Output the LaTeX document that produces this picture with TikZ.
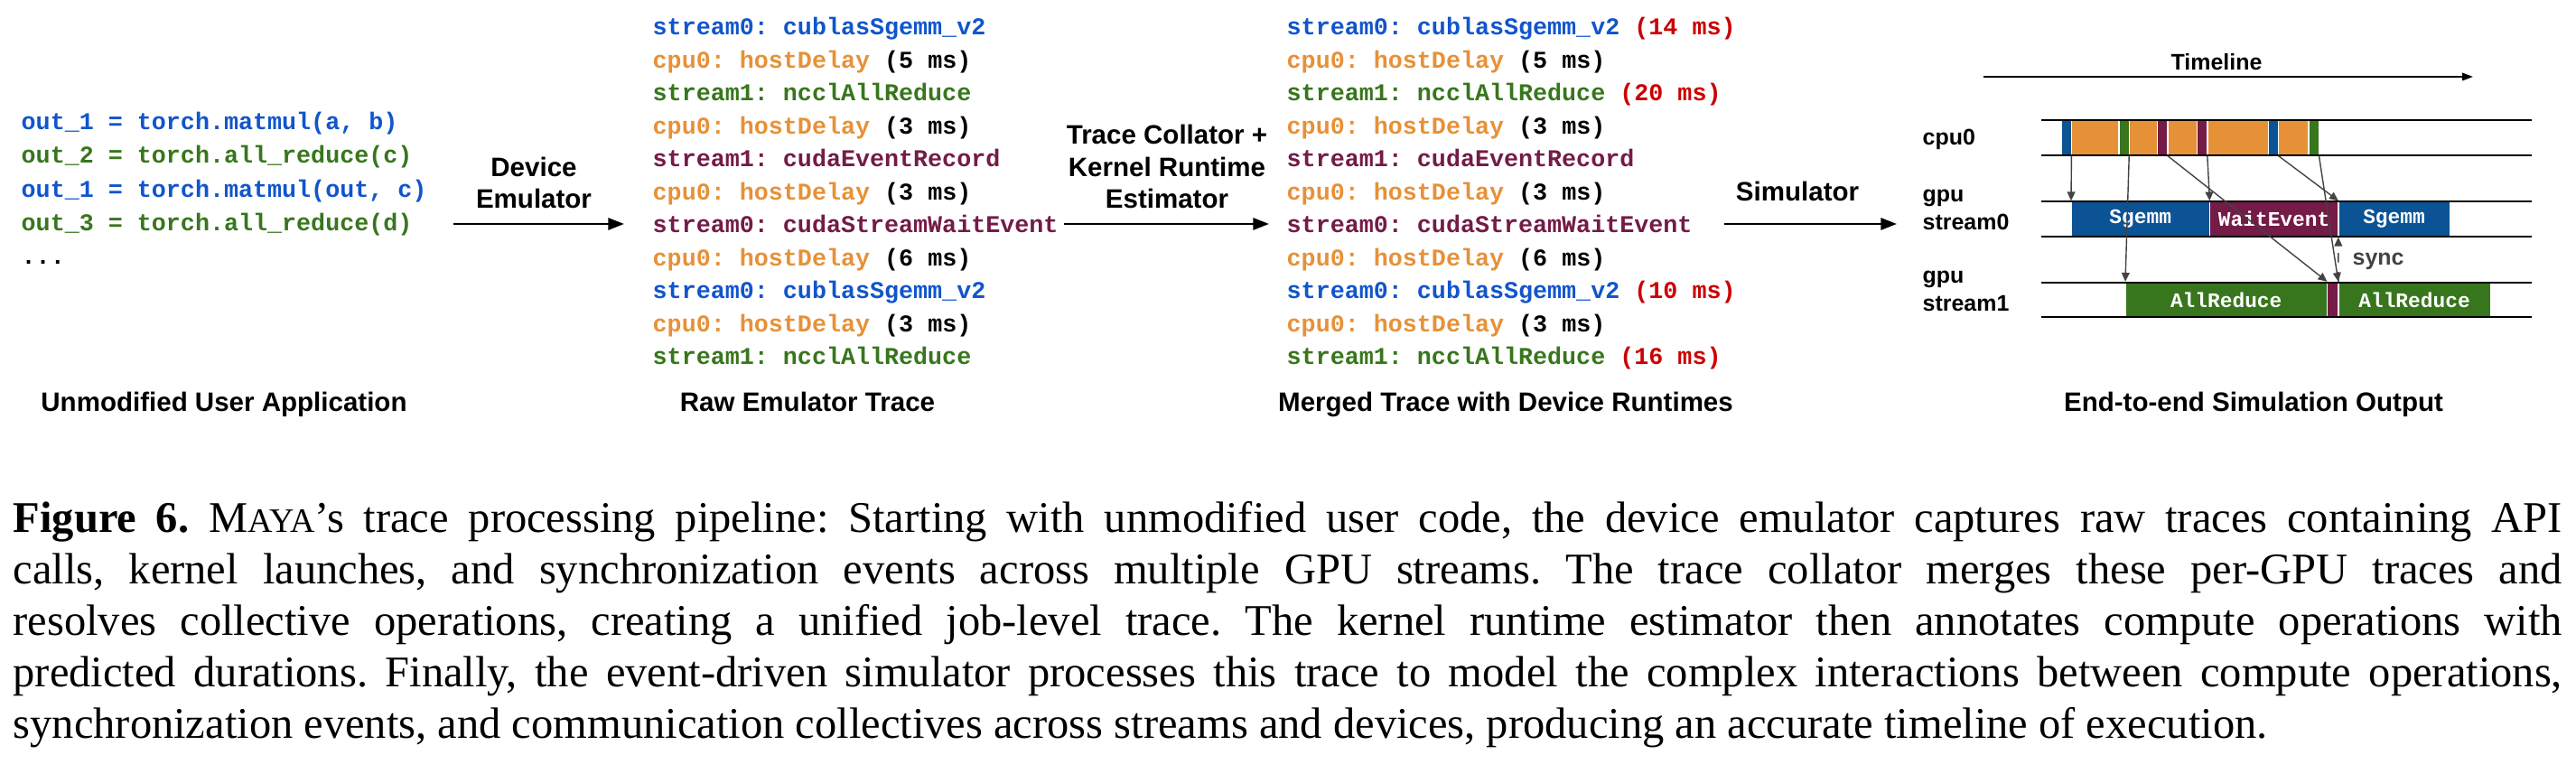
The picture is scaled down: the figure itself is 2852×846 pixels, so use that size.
\documentclass[tikz,border=0pt]{standalone}
\usepackage{fontspec}
\setmainfont{Liberation Serif}
\setsansfont{Liberation Sans}
\setmonofont{Liberation Mono}
\usetikzlibrary{positioning,matrix,arrows.meta}
\definecolor{codeblue}{HTML}{1155CC}
\definecolor{kblue}{HTML}{0B5394}
\definecolor{korange}{HTML}{E69138}
\definecolor{kgreen}{HTML}{38761D}
\definecolor{kpurple}{HTML}{741B47}
\definecolor{kred}{HTML}{CC0000}
\definecolor{kgray}{HTML}{434343}
\newcommand{\kbl}[1]{{\color{codeblue} #1}}
\newcommand{\kor}[1]{{\color{korange} #1}}
\newcommand{\kgr}[1]{{\color{kgreen} #1}}
\newcommand{\kpu}[1]{{\color{kpurple} #1}}
\newcommand{\krd}[1]{{\color{kred} #1}}
\newcommand{\codefont}{\ttfamily\bfseries\fontsize{7.6}{9}\selectfont}
\newcommand{\labfont}{\sffamily\bfseries\fontsize{8.4}{10.2}\selectfont}
\newcommand{\lanefont}{\sffamily\bfseries\fontsize{7.1}{8.8}\selectfont}
\newcommand{\boxfont}{\ttfamily\bfseries\fontsize{6.5}{8}\selectfont}
\newcommand{\captfont}{\rmfamily\fontsize{13.8}{16.15}\selectfont\frenchspacing\tolerance=10000\hbadness=10000}

\begin{document}
\begin{tikzpicture}[x=0.1mm, y=-0.1mm,
  codecol/.style={matrix of nodes, nodes=codeline, row sep=0pt, inner sep=0pt},
  codeline/.style={anchor=west, inner sep=0pt, text height=2.6mm, text depth=1.05mm, font=\codefont},
  lab/.style={inner sep=0pt, font=\labfont},
  lanelab/.style={inner sep=0pt, font=\lanefont},
  seg/.style={inner sep=0pt, minimum height=3.9mm, anchor=west},
  kbox/.style={inner sep=0pt, minimum height=3.9mm, anchor=west, text=white, font=\boxfont},
  lane/.style={line width=0.5pt},
  flow/.style={line width=0.75pt, -{Triangle[length=5pt,width=3.7pt]}},
  tflow/.style={line width=0.55pt, -{Triangle[length=3.4pt,width=2.4pt]}},
  dep/.style={draw=kgray, line width=0.4pt, -{Triangle[length=2.8pt,width=2.5pt]}}
  ]
  \useasboundingbox (0,0) rectangle (2852,846);

  % user application
  \matrix[codecol, anchor=north west, row sep=0.07mm] (app) at (23,117) {
    \kbl{out\_1 = torch.matmul(a, b)}\\
    \kgr{out\_2 = torch.all\_reduce(c)}\\
    \kbl{out\_1 = torch.matmul(out, c)}\\
    \kgr{out\_3 = torch.all\_reduce(d)}\\
    ...\\
  };

  % raw emulator trace
  \matrix[codecol, anchor=north west] (raw) at (722,12) {
    \kbl{stream0: cublasSgemm\_v2}\\
    \kor{cpu0: hostDelay} (5 ms)\\
    \kgr{stream1: ncclAllReduce}\\
    \kor{cpu0: hostDelay} (3 ms)\\
    \kpu{stream1: cudaEventRecord}\\
    \kor{cpu0: hostDelay} (3 ms)\\
    \kpu{stream0: cudaStreamWaitEvent}\\
    \kor{cpu0: hostDelay} (6 ms)\\
    \kbl{stream0: cublasSgemm\_v2}\\
    \kor{cpu0: hostDelay} (3 ms)\\
    \kgr{stream1: ncclAllReduce}\\
  };

  % merged trace
  \matrix[codecol, anchor=north west] (merged) at (1424,12) {
    \kbl{stream0: cublasSgemm\_v2} \krd{(14 ms)}\\
    \kor{cpu0: hostDelay} (5 ms)\\
    \kgr{stream1: ncclAllReduce} \krd{(20 ms)}\\
    \kor{cpu0: hostDelay} (3 ms)\\
    \kpu{stream1: cudaEventRecord}\\
    \kor{cpu0: hostDelay} (3 ms)\\
    \kpu{stream0: cudaStreamWaitEvent}\\
    \kor{cpu0: hostDelay} (6 ms)\\
    \kbl{stream0: cublasSgemm\_v2} \krd{(10 ms)}\\
    \kor{cpu0: hostDelay} (3 ms)\\
    \kgr{stream1: ncclAllReduce} \krd{(16 ms)}\\
  };

  % pipeline arrows
  \coordinate (emuS) at (502,248);
  \coordinate (emuE) at (691,248);
  \coordinate (colS) at (1178,248);
  \coordinate (colE) at (1405,248);
  \coordinate (simS) at (1909,248);
  \coordinate (simE) at (2100,248);
  \draw[flow] (emuS) -- (emuE);
  \draw[flow] (colS) -- (colE);
  \draw[flow] (simS) -- (simE);
  \node[lab, align=center, anchor=south] (emul) at (591,232) {Device\\Emulator};
  \node[lab, align=center, anchor=south] (coll) at (1292,232) {Trace Collator +\\Kernel Runtime\\Estimator};
  \node[lab, anchor=base] (siml) at (1990,223) {Simulator};

  % titles
  \node[lab, anchor=base] (appl) at (248,456) {Unmodified User Application};
  \node[lab, anchor=base] (rawl) at (894,456) {Raw Emulator Trace};
  \node[lab, anchor=base] (merl) at (1667,456) {Merged Trace with Device Runtimes};
  \node[lab, anchor=base] (outl) at (2495,456) {End-to-end Simulation Output};

  % timeline
  \coordinate (tlS) at (2196,85);
  \coordinate (tlE) at (2738,85);
  \draw[tflow] (tlS) -- (tlE);
  \node[lanelab, anchor=base] (tll) at (2454,78) {Timeline};
  \node[lanelab, anchor=base west] (cpul) at (2128,161) {cpu0};
  \node[lanelab, align=left, anchor=south west] (s0l) at (2128,255) {gpu\\stream0};
  \node[lanelab, align=left, anchor=south west] (s1l) at (2128,345) {gpu\\stream1};

  % cpu0 lane
  \node[seg, fill=kblue, minimum width=1mm] (b1) at (2282,152.5) {};
  \node[seg, fill=korange, minimum width=5.1mm, right=0pt of b1] (o1) {};
  \node[seg, fill=kgreen, minimum width=1mm, right=0pt of o1] (g1) {};
  \node[seg, fill=korange, minimum width=3mm, right=0pt of g1] (o2) {};
  \node[seg, fill=kpurple, minimum width=1mm, right=0pt of o2] (p1) {};
  \node[seg, fill=korange, minimum width=3.1mm, right=0pt of p1] (o3) {};
  \node[seg, fill=kpurple, minimum width=1mm, right=0pt of o3] (p2) {};
  \node[seg, fill=korange, minimum width=6.6mm, right=0pt of p2] (o4) {};
  \node[seg, fill=kblue, minimum width=1mm, right=0pt of o4] (b2) {};
  \node[seg, fill=korange, minimum width=3.2mm, right=0pt of b2] (o5) {};
  \node[seg, fill=kgreen, minimum width=1mm, right=0pt of o5] (g2) {};

  % gpu stream0 lane
  \node[kbox, fill=kblue, minimum width=15.2mm] (sg1) at (2293,242.5) {Sgemm};
  \node[kbox, fill=kpurple, minimum width=14.1mm, right=0pt of sg1] (we) {WaitEvent};
  \node[kbox, fill=kblue, minimum width=12.2mm, right=0pt of we] (sg2) {Sgemm};

  % gpu stream1 lane
  \node[kbox, fill=kgreen, minimum width=22.2mm] (ar1) at (2353,332) {AllReduce};
  \node[kbox, fill=kpurple, minimum width=1.1mm, right=0pt of ar1] (pm) {};
  \node[kbox, fill=kgreen, minimum width=16.7mm, right=0pt of pm] (ar2) {AllReduce};

  \draw[lane] (2260,133) -- (2803,133);
  \draw[lane] (2260,172) -- (2803,172);
  \draw[lane] (2260,223) -- (2803,223);
  \draw[lane] (2260,262) -- (2803,262);
  \draw[lane] (2260,313) -- (2803,313);
  \draw[lane] (2260,351) -- (2803,351);

  % launches and dependencies
  \draw[dep] (b1.south east) -- (sg1.north west);
  \draw[dep] (g1.south east) -- (ar1.north west);
  \draw[dep] (p1.south east) -- (pm.north west);
  \draw[dep] (p2.south east) -- (we.north west);
  \draw[dep] (b2.south east) -- (sg2.north west);
  \draw[dep] (g2.south east) -- (ar2.north west);
  \draw[dep, dashed] (ar2.north west) -- (sg2.south west);
  \node[lanelab, text=kgray, anchor=base west] (syncl) at (2604,294) {sync};

  % caption
  \node[anchor=base west, inner sep=0pt, text width=282.2mm, align=justify, font=\captfont] (caption) at (14,590) {\textbf{Figure 6.} M{\fontsize{10.8}{12}\selectfont AYA}’s trace processing pipeline: Starting with unmodified user code, the device emulator captures raw traces containing API\linebreak calls, kernel launches, and synchronization events across multiple GPU streams. The trace collator merges these per-GPU traces and\linebreak resolves collective operations, creating a unified job-level trace. The kernel runtime estimator then annotates compute operations with\linebreak predicted durations. Finally, the event-driven simulator processes this trace to model the complex interactions between compute operations,\linebreak synchronization events, and communication collectives across streams and devices, producing an accurate timeline of execution.};
\end{tikzpicture}
\end{document}
